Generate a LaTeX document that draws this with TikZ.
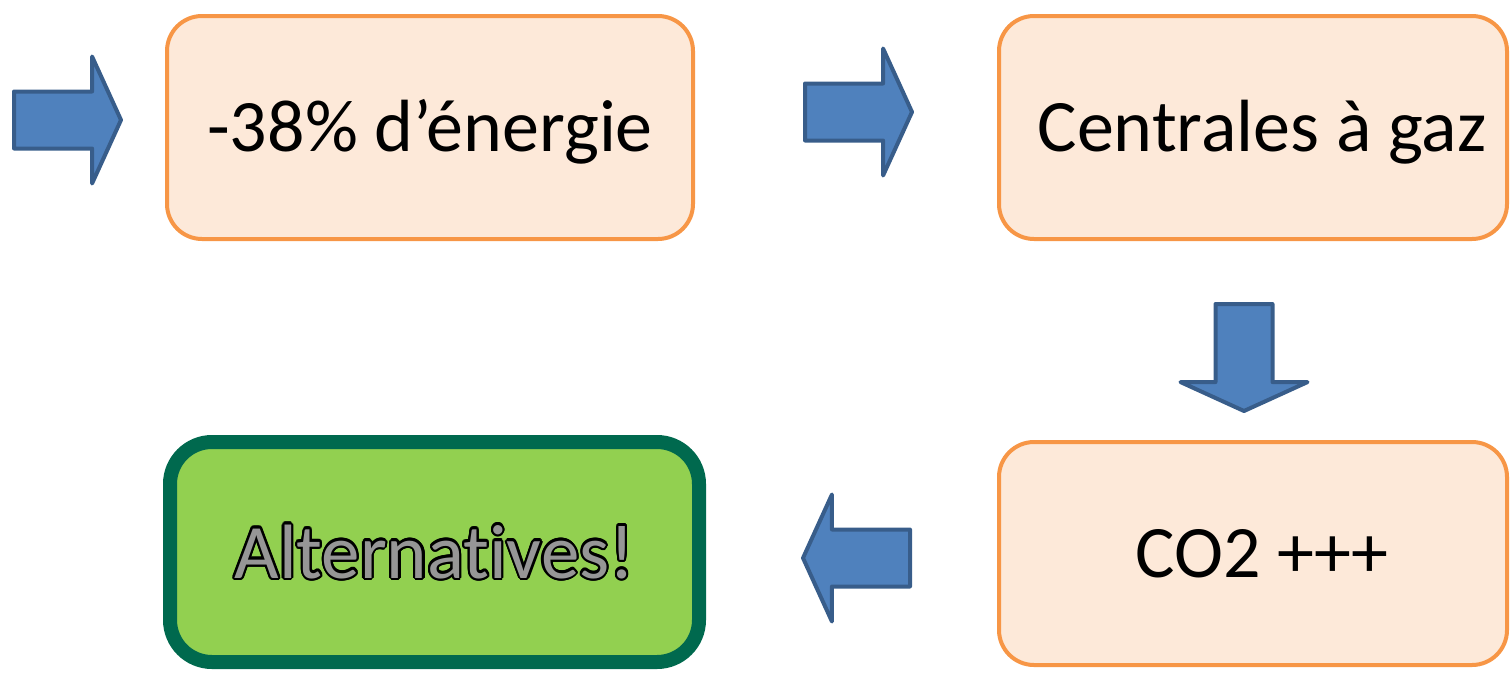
\documentclass[tikz,border=0pt]{standalone}
\usepackage{fontspec}
\setmainfont{Carlito}[Ligatures=NoCommon]
\usepackage[copies]{contour}
\usetikzlibrary{shapes.arrows}

\definecolor{naranja}{HTML}{F79646}
\definecolor{crema}{HTML}{FDE9D9}
\definecolor{azul}{HTML}{4F81BD}
\definecolor{azulosc}{HTML}{385D8A}
\definecolor{verde}{HTML}{92D050}
\definecolor{verdeosc}{HTML}{00694E}
\definecolor{gris}{HTML}{969696}
\contourlength{2.2pt}

\tikzset{
    caja/.style={draw=naranja, fill=crema, line width=4pt, rounded corners=35pt,
        minimum width=508pt, minimum height=223pt,
        font=\fontsize{74}{80}\selectfont, text height=50pt, text depth=2pt},
    desplazada/.style={execute at begin node=\hspace*{18pt}},
    flecha/.style={single arrow, draw=azulosc, fill=azul, line width=4pt, line join=round,
        minimum height=107pt, minimum width=123pt, single arrow head extend=35pt,
        inner sep=26.5pt, single arrow tip angle=131, anchor=tail},
}

\begin{document}
\begin{tikzpicture}[x=1pt,y=-1pt]
    \useasboundingbox (0,0) rectangle (1510,673);

    % Cajas
    \node[caja, minimum width=526pt] (energia) at (430,127.5) {-38\% d’énergie};
    \node[caja, desplazada] (centrales) at (1253,127.5) {Centrales à gaz};
    \node[caja, desplazada] (co2) at (1253,553.5) {CO2 +++};
    \node[caja, draw=verdeosc, fill=verde, line width=14pt, rounded corners=42pt,
        minimum width=529pt, minimum height=220pt, font=\fontsize{77}{80}\selectfont,
        text height=52pt, text depth=-4pt] (alternativas) at (434.5,552)
        {\contour{black}{\textcolor{gris}{Alternatives!}}};

    % Flechas
    \node[flecha] (f1) at (12,120) {};
    \node[flecha] (f2) at (803,112) {};
    \node[flecha, shape border rotate=270] (f3) at (1244,302) {};
    \node[flecha, shape border rotate=180] (f4) at (912,558) {};
\end{tikzpicture}
\end{document}
